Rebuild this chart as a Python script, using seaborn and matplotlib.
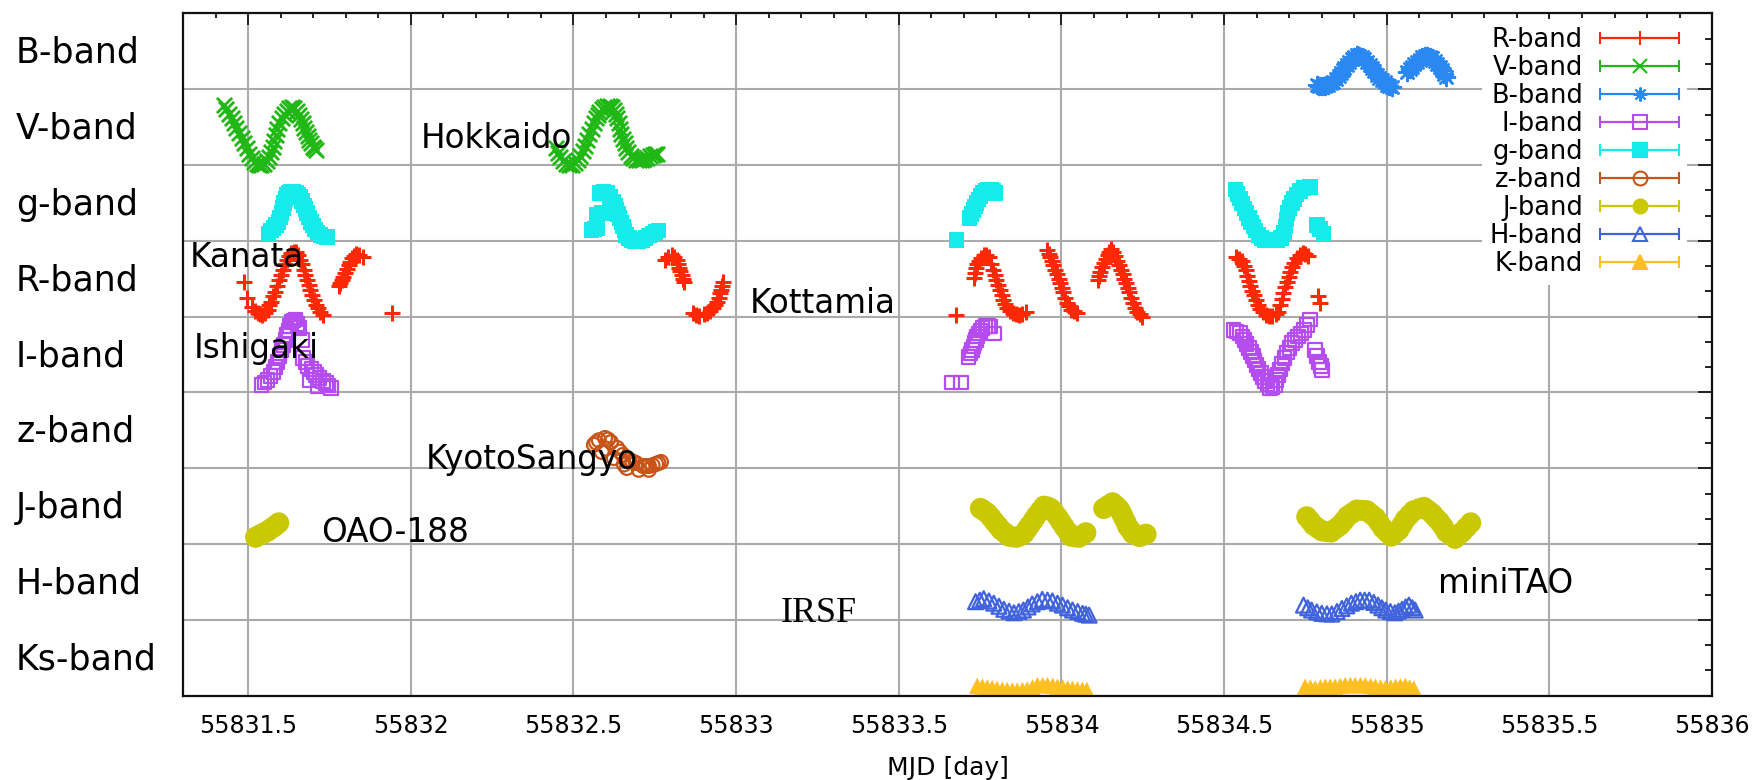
import numpy as np
import pandas as pd
import matplotlib
matplotlib.use("Agg")
import matplotlib.pyplot as plt
import seaborn as sns
from matplotlib import ticker
from matplotlib.lines import Line2D
from matplotlib.collections import LineCollection
from matplotlib.container import ErrorbarContainer
from matplotlib.legend_handler import HandlerErrorbar

# ---------------- data ----------------
# strips from top to bottom
band_rows = ["B-band", "V-band", "g-band", "R-band", "I-band", "z-band",
             "J-band", "H-band", "Ks-band"]
legend_labels = ["R-band", "V-band", "B-band", "I-band", "g-band", "z-band",
                 "J-band", "H-band", "K-band"]
xtick_values = [55831.5, 55832, 55832.5, 55833, 55833.5, 55834, 55834.5,
                55835, 55835.5, 55836]
xtick_labels = ["55831.5", "55832", "55832.5", "55833", "55833.5", "55834",
                "55834.5", "55835", "55835.5", "55836"]
site_names = ["Hokkaido", "Kanata", "Ishigaki", "Kottamia", "KyotoSangyo",
              "OAO-188", "IRSF", "miniTAO"]

# relative brightness inside each band strip (0 = bottom, 1 = top)
r_mjd = [55831.488, 55831.496, 55831.513, 55831.529, 55831.544, 55831.560,
         55831.570, 55831.582, 55831.596, 55831.606, 55831.619, 55831.632,
         55831.647, 55831.660, 55831.671, 55831.681, 55831.691, 55831.702,
         55831.714, 55831.729, 55831.778, 55831.788, 55831.798, 55831.809,
         55831.819, 55831.832, 55831.853, 55831.942,
         55831.520, 55831.537, 55831.552, 55831.565, 55831.576, 55831.589,
         55831.601, 55831.612, 55831.625, 55831.640, 55831.654, 55831.666,
         55831.676, 55831.686, 55831.697, 55831.708, 55831.721, 55831.783,
         55831.793, 55831.804, 55831.814, 55831.825, 55831.842,
         55832.782, 55832.802, 55832.817, 55832.825, 55832.833, 55832.840,
         55832.866, 55832.887, 55832.912, 55832.928, 55832.940, 55832.951,
         55832.957, 55832.959,
         55832.792, 55832.810, 55832.821, 55832.829, 55832.836, 55832.876,
         55832.900, 55832.920, 55832.934, 55832.946, 55832.954,
         55833.677, 55833.730, 55833.736, 55833.746, 55833.761, 55833.777,
         55833.790, 55833.800, 55833.811, 55833.821, 55833.833, 55833.852,
         55833.869, 55833.890, 55833.957, 55833.965, 55833.975, 55833.986,
         55833.996, 55834.006, 55834.016, 55834.029, 55834.047, 55834.111,
         55834.119, 55834.130, 55834.142, 55834.152, 55834.164, 55834.178,
         55834.188, 55834.198, 55834.209, 55834.219, 55834.232, 55834.247,
         55833.733, 55833.741, 55833.753, 55833.769, 55833.784, 55833.795,
         55833.806, 55833.816, 55833.827, 55833.842, 55833.860, 55833.880,
         55833.961, 55833.970, 55833.981, 55833.991, 55834.001, 55834.011,
         55834.022, 55834.038, 55834.115, 55834.125, 55834.136, 55834.147,
         55834.158, 55834.171, 55834.183, 55834.193, 55834.204, 55834.214,
         55834.226, 55834.240,
         55834.538, 55834.556, 55834.566, 55834.576, 55834.586, 55834.597,
         55834.610, 55834.628, 55834.648, 55834.667, 55834.677, 55834.687,
         55834.698, 55834.708, 55834.723, 55834.741, 55834.757, 55834.788,
         55834.795,
         55834.547, 55834.561, 55834.571, 55834.581, 55834.592, 55834.604,
         55834.619, 55834.638, 55834.658, 55834.672, 55834.682, 55834.693,
         55834.703, 55834.715, 55834.732, 55834.749]
r_val = [0.46, 0.24, 0.13, 0.045, 0.02, 0.09, 0.20, 0.33, 0.485, 0.62, 0.75,
         0.845, 0.86, 0.75, 0.62, 0.485, 0.35, 0.22, 0.11, 0.02, 0.40, 0.485,
         0.58, 0.68, 0.77, 0.83, 0.785, 0.045,
         0.08, 0.03, 0.05, 0.15, 0.27, 0.41, 0.55, 0.69, 0.80, 0.86, 0.81,
         0.69, 0.55, 0.42, 0.28, 0.16, 0.06, 0.44, 0.53, 0.63, 0.72, 0.80,
         0.82,
         0.75, 0.815, 0.75, 0.64, 0.55, 0.46, 0.045, 0.01, 0.045, 0.11, 0.20,
         0.31, 0.40, 0.46,
         0.79, 0.79, 0.70, 0.60, 0.50, 0.02, 0.03, 0.075, 0.155, 0.25, 0.35,
         0.02, 0.51, 0.64, 0.73, 0.815, 0.785, 0.62, 0.485, 0.35, 0.22, 0.12,
         0.045, 0.02, 0.066, 0.88, 0.785, 0.68, 0.56, 0.44, 0.32, 0.185, 0.09,
         0.055, 0.485, 0.595, 0.705, 0.815, 0.89, 0.80, 0.68, 0.56, 0.44, 0.32,
         0.185, 0.066, 0.0,
         0.58, 0.69, 0.78, 0.81, 0.70, 0.55, 0.42, 0.285, 0.17, 0.08, 0.03,
         0.04, 0.83, 0.73, 0.62, 0.50, 0.38, 0.25, 0.135, 0.07, 0.54, 0.65,
         0.76, 0.85, 0.85, 0.74, 0.62, 0.50, 0.38, 0.25, 0.12, 0.03,
         0.79, 0.73, 0.61, 0.475, 0.34, 0.22, 0.10, 0.02, 0.01, 0.066, 0.23,
         0.39, 0.52, 0.65, 0.77, 0.84, 0.80, 0.27, 0.185,
         0.76, 0.67, 0.54, 0.41, 0.28, 0.16, 0.06, 0.01, 0.03, 0.15, 0.31,
         0.455, 0.585, 0.71, 0.81, 0.83]

v_mjd = [55831.426, 55831.441, 55831.457, 55831.472, 55831.488, 55831.503,
         55831.519, 55831.534, 55831.549, 55831.565, 55831.575, 55831.585,
         55831.596, 55831.611, 55831.627, 55831.642, 55831.657, 55831.668,
         55831.678, 55831.688, 55831.698, 55831.709,
         55831.433, 55831.449, 55831.464, 55831.480, 55831.496, 55831.511,
         55831.527, 55831.541, 55831.557, 55831.570, 55831.580, 55831.590,
         55831.603, 55831.619, 55831.634, 55831.650, 55831.663, 55831.673,
         55831.683, 55831.693, 55831.704,
         55832.446, 55832.460, 55832.477, 55832.496, 55832.514, 55832.529,
         55832.542, 55832.556, 55832.568, 55832.580, 55832.594, 55832.611,
         55832.624, 55832.635, 55832.643, 55832.652, 55832.662, 55832.676,
         55832.691, 55832.710, 55832.727, 55832.743, 55832.758,
         55832.453, 55832.468, 55832.486, 55832.505, 55832.521, 55832.535,
         55832.549, 55832.562, 55832.574, 55832.587, 55832.602, 55832.617,
         55832.630, 55832.639, 55832.647, 55832.657, 55832.669, 55832.683,
         55832.700, 55832.718, 55832.735, 55832.750]
v_val = [0.79, 0.68, 0.55, 0.42, 0.29, 0.15, 0.04, 0.00, 0.02, 0.11, 0.24,
         0.40, 0.55, 0.68, 0.75, 0.75, 0.66, 0.55, 0.44, 0.33, 0.24, 0.20,
         0.735, 0.615, 0.485, 0.355, 0.22, 0.09, 0.01, 0.005, 0.06, 0.175,
         0.32, 0.475, 0.615, 0.72, 0.76, 0.71, 0.605, 0.495, 0.385, 0.285,
         0.22,
         0.22, 0.11, 0.02, 0.00, 0.07, 0.18, 0.33, 0.48, 0.62, 0.70, 0.77,
         0.78, 0.73, 0.62, 0.48, 0.35, 0.22, 0.12, 0.07, 0.07, 0.10, 0.13, 0.15,
         0.165, 0.06, 0.0, 0.03, 0.12, 0.255, 0.405, 0.55, 0.66, 0.74, 0.78,
         0.76, 0.68, 0.55, 0.415, 0.285, 0.17, 0.09, 0.065, 0.085, 0.115, 0.14]

b_mjd = [55834.785, 55834.800, 55834.819, 55834.836, 55834.852, 55834.864,
         55834.877, 55834.893, 55834.908, 55834.924, 55834.939, 55834.955,
         55834.970, 55834.985, 55835.001, 55835.016,
         55834.792, 55834.810, 55834.828, 55834.844, 55834.858, 55834.870,
         55834.885, 55834.900, 55834.916, 55834.931, 55834.947, 55834.962,
         55834.977, 55834.993, 55835.008,
         55835.063, 55835.078, 55835.093, 55835.109, 55835.124, 55835.140,
         55835.155, 55835.171, 55835.183,
         55835.070, 55835.085, 55835.101, 55835.116, 55835.132, 55835.148,
         55835.163, 55835.177]
b_val = [0.057, 0.044, 0.057, 0.10, 0.17, 0.25, 0.32, 0.40, 0.45, 0.43, 0.36,
         0.28, 0.19, 0.12, 0.057, 0.034,
         0.05, 0.05, 0.08, 0.135, 0.21, 0.285, 0.36, 0.43, 0.445, 0.40, 0.32,
         0.235, 0.155, 0.09, 0.045,
         0.23, 0.30, 0.36, 0.42, 0.44, 0.41, 0.33, 0.25, 0.16,
         0.265, 0.33, 0.39, 0.435, 0.43, 0.37, 0.29, 0.205]

i_mjd = [55831.541, 55831.560, 55831.578, 55831.590, 55831.603, 55831.615,
         55831.624, 55831.634, 55831.646, 55831.658, 55831.665, 55831.668,
         55831.683, 55831.689, 55831.702, 55831.714, 55831.720, 55831.739,
         55831.754,
         55831.550, 55831.569, 55831.584, 55831.597, 55831.609, 55831.620,
         55831.629, 55831.640, 55831.652, 55831.676, 55831.695, 55831.708,
         55831.730, 55831.746,
         55833.664, 55833.691, 55833.715, 55833.725, 55833.733, 55833.741,
         55833.751, 55833.766, 55833.782, 55833.792,
         55833.720, 55833.729, 55833.737, 55833.746, 55833.758, 55833.774,
         55834.529, 55834.548, 55834.563, 55834.576, 55834.588, 55834.600,
         55834.613, 55834.625, 55834.641, 55834.656, 55834.665, 55834.678,
         55834.693, 55834.709, 55834.727, 55834.746, 55834.764, 55834.779,
         55834.792, 55834.801,
         55834.538, 55834.556, 55834.569, 55834.582, 55834.594, 55834.606,
         55834.619, 55834.633, 55834.648, 55834.661, 55834.671, 55834.686,
         55834.701, 55834.718, 55834.736, 55834.755, 55834.785, 55834.797]
i_val = [0.10, 0.165, 0.27, 0.40, 0.56, 0.69, 0.82, 0.93, 0.96, 0.85, 0.69,
         0.455, 0.35, 0.165, 0.27, 0.086, 0.19, 0.125, 0.06,
         0.13, 0.22, 0.335, 0.48, 0.625, 0.755, 0.875, 0.95, 0.905, 0.40,
         0.31, 0.23, 0.15, 0.09,
         0.13, 0.13, 0.47, 0.56, 0.65, 0.74, 0.82, 0.88, 0.87, 0.78,
         0.515, 0.605, 0.695, 0.78, 0.85, 0.875,
         0.825, 0.785, 0.69, 0.59, 0.48, 0.36, 0.26, 0.15, 0.06, 0.10, 0.23,
         0.38, 0.53, 0.65, 0.74, 0.825, 0.96, 0.56, 0.40, 0.30,
         0.805, 0.74, 0.64, 0.535, 0.42, 0.31, 0.205, 0.105, 0.07, 0.165,
         0.305, 0.455, 0.59, 0.695, 0.78, 0.89, 0.48, 0.35]

g_mjd = [55831.562, 55831.578, 55831.593, 55831.603, 55831.611, 55831.619,
         55831.632, 55831.647, 55831.660, 55831.671, 55831.681, 55831.693,
         55831.706, 55831.722, 55831.743,
         55831.570, 55831.586, 55831.598, 55831.607, 55831.615, 55831.625,
         55831.640, 55831.654, 55831.666, 55831.676, 55831.687, 55831.700,
         55831.714, 55831.732,
         55832.556, 55832.573, 55832.573, 55832.588, 55832.580, 55832.604,
         55832.621, 55832.632, 55832.642, 55832.652, 55832.662, 55832.679,
         55832.699, 55832.722, 55832.743, 55832.761,
         55832.565, 55832.612, 55832.627, 55832.637, 55832.647, 55832.657,
         55832.670, 55832.689, 55832.710, 55832.733, 55832.752, 55832.592,
         55833.677, 55833.718, 55833.729, 55833.739, 55833.751, 55833.766,
         55833.784, 55833.798,
         55833.723, 55833.734, 55833.745, 55833.758, 55833.775, 55833.791,
         55834.535, 55834.548, 55834.562, 55834.576, 55834.590, 55834.605,
         55834.626, 55834.651, 55834.675, 55834.689, 55834.695, 55834.708,
         55834.723, 55834.744, 55834.764, 55834.785, 55834.806,
         55834.541, 55834.555, 55834.569, 55834.583, 55834.597, 55834.615,
         55834.638, 55834.663, 55834.684, 55834.692, 55834.701, 55834.715,
         55834.733, 55834.754, 55834.795]
g_val = [0.10, 0.17, 0.25, 0.37, 0.50, 0.61, 0.65, 0.64, 0.58, 0.47, 0.37,
         0.25, 0.15, 0.08, 0.05,
         0.135, 0.21, 0.31, 0.435, 0.555, 0.635, 0.65, 0.61, 0.525, 0.42,
         0.31, 0.20, 0.11, 0.06,
         0.145, 0.17, 0.34, 0.37, 0.63, 0.64, 0.52, 0.41, 0.30, 0.19, 0.08,
         0.013, 0.0, 0.035, 0.10, 0.135,
         0.155, 0.58, 0.465, 0.355, 0.245, 0.135, 0.04, 0.0, 0.015, 0.07, 0.12,
         0.645,
         0.013, 0.30, 0.41, 0.50, 0.59, 0.66, 0.68, 0.63,
         0.355, 0.455, 0.545, 0.63, 0.675, 0.66,
         0.68, 0.56, 0.43, 0.30, 0.19, 0.08, 0.013, 0.004, 0.035, 0.19, 0.37,
         0.50, 0.61, 0.70, 0.71, 0.21, 0.10,
         0.62, 0.495, 0.365, 0.245, 0.135, 0.04, 0.005, 0.015, 0.11, 0.28,
         0.435, 0.555, 0.655, 0.705, 0.155]

z_mjd = [55832.563, 55832.578, 55832.587, 55832.597, 55832.615, 55832.624,
         55832.634, 55832.652, 55832.664, 55832.671, 55832.692, 55832.701,
         55832.714, 55832.732, 55832.732, 55832.754, 55832.769,
         55832.570, 55832.606, 55832.643, 55832.681, 55832.723, 55832.743,
         55832.761, 55832.600, 55832.655]
z_val = [0.31, 0.37, 0.215, 0.40, 0.345, 0.135, 0.27, 0.175, 0.004, 0.11,
         0.07, -0.02, 0.03, 0.03, -0.02, 0.057, 0.083,
         0.34, 0.38, 0.22, 0.09, 0.03, 0.04, 0.07, 0.26, 0.05]

j_mjd = [55831.523, 55831.541, 55831.560, 55831.578, 55831.594,
         55831.532, 55831.550, 55831.569, 55831.586,
         55833.751, 55833.773, 55833.794, 55833.815, 55833.838, 55833.862,
         55833.885, 55833.903, 55833.924, 55833.946, 55833.967, 55833.988,
         55834.008, 55834.029, 55834.054, 55834.075,
         55834.130, 55834.157, 55834.178, 55834.191, 55834.204, 55834.219,
         55834.240, 55834.260,
         55833.762, 55833.784, 55833.805, 55833.827, 55833.850, 55833.874,
         55833.894, 55833.914, 55833.935, 55833.957, 55833.978, 55833.998,
         55834.019, 55834.042, 55834.065, 55834.144, 55834.168, 55834.185,
         55834.198, 55834.212, 55834.230, 55834.250,
         55834.754, 55834.775, 55834.800, 55834.829, 55834.857, 55834.880,
         55834.908, 55834.939, 55834.965, 55834.988, 55835.014, 55835.037,
         55835.057, 55835.083, 55835.114, 55835.140, 55835.162, 55835.183,
         55835.210, 55835.232, 55835.258,
         55834.765, 55834.788, 55834.815, 55834.843, 55834.869, 55834.894,
         55834.924, 55834.952, 55834.977, 55835.001, 55835.026, 55835.047,
         55835.070, 55835.099, 55835.127, 55835.151, 55835.173, 55835.197,
         55835.221, 55835.245]
j_val = [0.09, 0.13, 0.17, 0.225, 0.28,
         0.11, 0.15, 0.20, 0.25,
         0.47, 0.405, 0.295, 0.185, 0.105, 0.09, 0.14, 0.25, 0.38, 0.50, 0.47,
         0.36, 0.23, 0.105, 0.09, 0.15,
         0.47, 0.545, 0.46, 0.35, 0.23, 0.14, 0.10, 0.13,
         0.44, 0.35, 0.24, 0.145, 0.095, 0.11, 0.195, 0.315, 0.44, 0.49, 0.415,
         0.295, 0.165, 0.095, 0.12, 0.51, 0.505, 0.405, 0.29, 0.185, 0.12,
         0.115,
         0.36, 0.25, 0.175, 0.16, 0.25, 0.37, 0.45, 0.44, 0.35, 0.21, 0.105,
         0.185, 0.325, 0.44, 0.485, 0.40, 0.295, 0.16, 0.075, 0.16, 0.28,
         0.305, 0.21, 0.165, 0.205, 0.31, 0.41, 0.445, 0.395, 0.28, 0.155,
         0.145, 0.255, 0.385, 0.465, 0.445, 0.345, 0.23, 0.115, 0.12, 0.22]

h_mjd = [55833.736, 55833.761, 55833.792, 55833.823, 55833.854, 55833.883,
         55833.910, 55833.941, 55833.972, 55834.003, 55834.034, 55834.065,
         55834.085,
         55833.749, 55833.777, 55833.808, 55833.839, 55833.869, 55833.897,
         55833.926, 55833.957, 55833.988, 55834.019, 55834.050, 55834.075,
         55834.744, 55834.769, 55834.800, 55834.831, 55834.862, 55834.891,
         55834.918, 55834.946, 55834.973, 55834.997, 55835.025, 55835.047,
         55835.068, 55835.087,
         55834.757, 55834.785, 55834.816, 55834.847, 55834.877, 55834.905,
         55834.932, 55834.960, 55834.985, 55835.011, 55835.036, 55835.058,
         55835.078]
h_val = [0.24, 0.28, 0.22, 0.14, 0.094, 0.13, 0.21, 0.27, 0.25, 0.195, 0.13,
         0.086, 0.063,
         0.26, 0.25, 0.18, 0.115, 0.11, 0.17, 0.24, 0.26, 0.22, 0.16, 0.11,
         0.075,
         0.195, 0.13, 0.086, 0.077, 0.15, 0.22, 0.26, 0.26, 0.195, 0.13,
         0.094, 0.14, 0.195, 0.13,
         0.16, 0.105, 0.08, 0.11, 0.185, 0.24, 0.26, 0.23, 0.16, 0.11, 0.115,
         0.17, 0.16]

k_mjd = [55833.741, 55833.772, 55833.802, 55833.833, 55833.864, 55833.895,
         55833.926, 55833.957, 55833.988, 55834.019, 55834.049, 55834.078,
         55833.757, 55833.787, 55833.818, 55833.849, 55833.880, 55833.911,
         55833.942, 55833.973, 55834.004, 55834.034, 55834.064,
         55834.749, 55834.780, 55834.811, 55834.841, 55834.872, 55834.903,
         55834.934, 55834.965, 55834.996, 55835.027, 55835.057, 55835.083,
         55834.765, 55834.796, 55834.826, 55834.857, 55834.888, 55834.919,
         55834.950, 55834.981, 55835.012, 55835.042, 55835.070]
k_val = [0.13, 0.11, 0.09, 0.075, 0.066, 0.084, 0.14, 0.14, 0.12, 0.097,
         0.084, 0.075,
         0.12, 0.10, 0.08, 0.07, 0.075, 0.11, 0.14, 0.13, 0.11, 0.09, 0.08,
         0.12, 0.097, 0.12, 0.12, 0.14, 0.14, 0.14, 0.12, 0.097, 0.12, 0.13,
         0.097,
         0.11, 0.11, 0.12, 0.13, 0.14, 0.14, 0.13, 0.11, 0.11, 0.125, 0.11]

# ---------------- styles ----------------
series = {
    "R-band": dict(mjd=r_mjd, val=r_val, row="R-band", color="#fc2806",
                   marker="+", s=140, lw=2.2, fill=False, line=True),
    "V-band": dict(mjd=v_mjd, val=v_val, row="V-band", color="#20b814",
                   marker="x", s=120, lw=2.0, fill=False, line=True),
    "B-band": dict(mjd=b_mjd, val=b_val, row="B-band", color="#2a88f2",
                   marker=(8, 2, 0), s=150, lw=1.8, fill=False, line=True),
    "I-band": dict(mjd=i_mjd, val=i_val, row="I-band", color="#b44cf0",
                   marker="s", s=95, lw=1.6, fill=False, line=False),
    "g-band": dict(mjd=g_mjd, val=g_val, row="g-band", color="#15ebeb",
                   marker="s", s=125, lw=0, fill=True, line=False),
    "z-band": dict(mjd=z_mjd, val=z_val, row="z-band", color="#c85418",
                   marker="o", s=100, lw=1.6, fill=False, line=False),
    "J-band": dict(mjd=j_mjd, val=j_val, row="J-band", color="#c9c802",
                   marker="o", s=230, lw=0, fill=True, line=False),
    "H-band": dict(mjd=h_mjd, val=h_val, row="H-band", color="#4063dd",
                   marker="^", s=115, lw=1.6, fill=False, line=False),
    "K-band": dict(mjd=k_mjd, val=k_val, row="Ks-band", color="#fdbf22",
                   marker="^", s=140, lw=0, fill=True, line=False),
}

# ---------------- figure ----------------
sns.set_style("white")
plt.rcParams["font.family"] = ["DejaVu Sans"]
plt.rcParams["text.color"] = "black"
plt.rcParams["axes.labelcolor"] = "black"
plt.rcParams["xtick.color"] = "black"
plt.rcParams["ytick.color"] = "black"

fig = plt.figure(figsize=(17.6, 7.8), dpi=100)
ax = fig.add_axes([0.1040, 0.1081, 0.8688, 0.8746])
n_rows = len(band_rows)
row_offset = {b: n_rows - 1 - i for i, b in enumerate(band_rows)}

for name, st in series.items():
    df = pd.DataFrame({"MJD": st["mjd"],
                       "y": np.asarray(st["val"]) + row_offset[st["row"]]})
    kw = dict(data=df, x="MJD", y="y", ax=ax, marker=st["marker"], s=st["s"],
              legend=False, zorder=2)
    if st["line"]:
        kw.update(color=st["color"], linewidth=st["lw"])
    elif st["fill"]:
        kw.update(color=st["color"], edgecolor="none", linewidth=0)
    else:
        kw.update(color=st["color"], facecolor="none", edgecolor=st["color"],
                  linewidth=st["lw"])
    sns.scatterplot(**kw)

ax.set_xlim(55831.3, 55836.0)
ax.set_ylim(0, n_rows)
ax.xaxis.set_major_locator(ticker.FixedLocator(xtick_values))
ax.xaxis.set_major_formatter(ticker.FixedFormatter(xtick_labels))
ax.xaxis.set_minor_locator(ticker.MultipleLocator(0.1))
ax.yaxis.set_major_locator(ticker.FixedLocator(list(range(n_rows + 1))))
ax.yaxis.set_minor_locator(ticker.MultipleLocator(1 / 3))
ax.set_yticklabels([])
ax.set_ylabel("")
ax.set_xlabel("MJD [day]", fontsize=18, labelpad=13)

ax.tick_params(axis="both", which="both", direction="in", top=True,
               right=True, color="#222222", width=1.4)
ax.tick_params(axis="x", which="major", length=8.5, labelsize=17, pad=13)
ax.tick_params(axis="x", which="minor", length=3.6)
ax.tick_params(axis="y", which="major", length=10)
ax.tick_params(axis="y", which="minor", length=4.7)
for sp in ax.spines.values():
    sp.set_color("#111111")
    sp.set_linewidth(1.6)

ax.set_axisbelow(True)
ax.grid(True, which="major", color="#aaaaaa", linewidth=1.5)

# band names on the left
for b in band_rows:
    ax.text(-0.1092, row_offset[b] + 0.348, b, transform=ax.get_yaxis_transform(),
            ha="left", va="baseline", fontsize=25, color="black", clip_on=False)

# observatory names
site_pos = {"Hokkaido": (55832.032, 7.226), "Kanata": (55831.322, 5.656),
            "Ishigaki": (55831.334, 4.455), "Kottamia": (55833.041, 5.049),
            "KyotoSangyo": (55832.047, 2.991), "OAO-188": (55831.723, 2.028),
            "IRSF": (55833.137, 0.972), "miniTAO": (55835.158, 1.355)}
for s in site_names:
    x, y = site_pos[s]
    if s == "IRSF":
        ax.text(x, y, s, ha="left", va="baseline", fontsize=26,
                family=["Liberation Serif", "DejaVu Serif"], zorder=4)
    else:
        ax.text(x, y, s, ha="left", va="baseline", fontsize=23.5, zorder=4)

# legend (errorbar style keys)
handles = []
for lab in legend_labels:
    st = series[lab]
    mfc = st["color"] if st["fill"] else "none"
    data_line = Line2D([], [], linestyle="none", marker=st["marker"],
                       markersize=10, markerfacecolor=mfc,
                       markeredgecolor=st["color"], markeredgewidth=1.5,
                       color=st["color"])
    cap = Line2D([], [], linestyle="none", marker="|", markersize=9,
                 markeredgewidth=1.5, color=st["color"],
                 markeredgecolor=st["color"])
    bar = LineCollection([], colors=st["color"], linewidths=1.6)
    handles.append(ErrorbarContainer((data_line, (cap, cap), [bar]),
                                     has_xerr=True, has_yerr=False))
leg = ax.legend(handles, legend_labels, loc="upper right",
                bbox_to_anchor=(0.9836, 0.992), borderaxespad=0, borderpad=0.3,
                labelspacing=0.08, handlelength=3.1, handletextpad=0.65,
                markerfirst=False, frameon=True, fancybox=False, framealpha=1,
                edgecolor="none", facecolor="white", fontsize=18.5,
                handler_map={ErrorbarContainer:
                             HandlerErrorbar(xerr_size=1.55, numpoints=1)})

fig.savefig("out.png", dpi=100)
